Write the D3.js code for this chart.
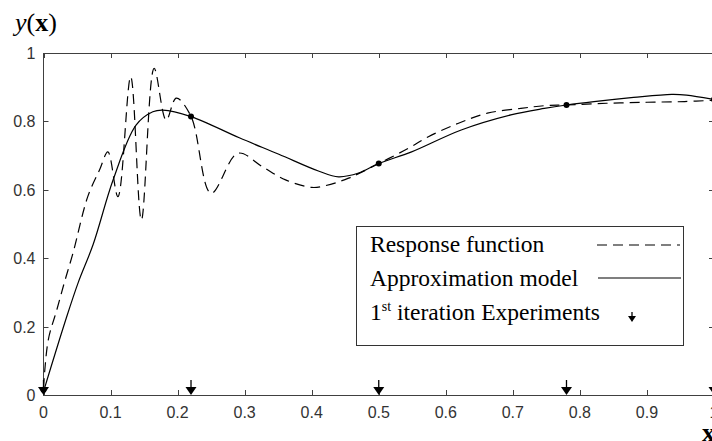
<!DOCTYPE html>
<html><head>
<meta charset="utf-8">
<script src="https://d3js.org/d3.v7.min.js"></script>
<style>
  body { margin: 0; background: #fff; }
  .frame { fill: none; stroke: #404040; stroke-width: 1px; }
  .tick-mark { stroke: #404040; stroke-width: 1px; }
  .tick-label { font-family: Arial, "Liberation Sans", sans-serif; font-size: 16px; fill: #333; }
  .response { fill: none; stroke: #000; stroke-width: 1.2px; stroke-dasharray: 10,6; }
  .approx { fill: none; stroke: #000; stroke-width: 1.2px; }
  .legend-box { fill: #fff; stroke: #333; stroke-width: 1px; }
  .legend-text { font-family: "Times New Roman", "Liberation Serif", serif; font-size: 23.5px; fill: #000; }
  .axis-title { font-family: "Times New Roman", "Liberation Serif", serif; font-size: 26px; fill: #000; }
</style>
</head>
<body>
<svg id="chart" width="712" height="441"></svg>
<script>
  // values
  const respX = [0, 0.007, 0.02, 0.032, 0.044, 0.066, 0.084, 0.096, 0.111, 0.13, 0.146, 0.165, 0.183, 0.198, 0.22, 0.25, 0.29, 0.326, 0.361, 0.40, 0.42, 0.455, 0.5, 0.544, 0.574, 0.618, 0.662, 0.712, 0.747, 0.78, 0.84, 0.9, 0.956, 1.0];
  const respY = [0.02, 0.16, 0.25, 0.335, 0.415, 0.58, 0.66, 0.711, 0.58, 0.931, 0.512, 0.955, 0.804, 0.868, 0.815, 0.59, 0.707, 0.668, 0.629, 0.607, 0.612, 0.634, 0.677, 0.721, 0.755, 0.794, 0.824, 0.838, 0.846, 0.848, 0.853, 0.856, 0.858, 0.862];

  const approxX = [0, 0.034, 0.052, 0.074, 0.104, 0.138, 0.163, 0.178, 0.22, 0.292, 0.351, 0.41, 0.44, 0.47, 0.5, 0.549, 0.623, 0.697, 0.747, 0.78, 0.821, 0.88, 0.937, 0.959, 1.0];
  const approxY = [0.01, 0.225, 0.33, 0.44, 0.63, 0.789, 0.828, 0.833, 0.814, 0.752, 0.704, 0.655, 0.638, 0.649, 0.677, 0.711, 0.775, 0.819, 0.838, 0.848, 0.858, 0.870, 0.879, 0.877, 0.864];

  const expX = [0, 0.22, 0.5, 0.78, 1.0];
  const expY = [0.015, 0.814, 0.677, 0.848, 0.864];

  const xTicks = [0, 0.1, 0.2, 0.3, 0.4, 0.5, 0.6, 0.7, 0.8, 0.9, 1];
  const xTickLabels = ["0", "0.1", "0.2", "0.3", "0.4", "0.5", "0.6", "0.7", "0.8", "0.9", "1"];
  const yTicks = [0, 0.2, 0.4, 0.6, 0.8, 1];
  const yTickLabels = ["0", "0.2", "0.4", "0.6", "0.8", "1"];

  const svg = d3.select("#chart");
  const plotLeft = 43.5, plotRight = 714, plotTop = 53, plotBottom = 395;

  const xScale = d3.scaleLinear().domain([0, 1]).range([plotLeft, plotRight]);
  const yScale = d3.scaleLinear().domain([0, 1]).range([plotBottom, plotTop]);

  // box
  svg.append("rect").attr("class", "frame")
    .attr("x", plotLeft).attr("y", plotTop + 0.5)
    .attr("width", plotRight - plotLeft).attr("height", plotBottom - plotTop);

  const tickLen = 5;
  // x ticks, bottom and top, pointing inward
  xTicks.forEach((t, i) => {
    const px = Math.round(xScale(t)) + 0.5;
    svg.append("line").attr("class", "tick-mark")
      .attr("x1", px).attr("x2", px).attr("y1", plotBottom).attr("y2", plotBottom - tickLen);
    svg.append("line").attr("class", "tick-mark")
      .attr("x1", px).attr("x2", px).attr("y1", plotTop).attr("y2", plotTop + tickLen);
    svg.append("text").attr("class", "tick-label")
      .attr("x", xScale(t)).attr("y", 418)
      .attr("text-anchor", "middle")
      .text(xTickLabels[i]);
  });
  // y ticks, left and right
  yTicks.forEach((t, i) => {
    const py = Math.round(yScale(t)) + 0.5;
    svg.append("line").attr("class", "tick-mark")
      .attr("x1", plotLeft).attr("x2", plotLeft + tickLen).attr("y1", py).attr("y2", py);
    svg.append("line").attr("class", "tick-mark")
      .attr("x1", plotRight).attr("x2", plotRight - tickLen).attr("y1", py).attr("y2", py);
    svg.append("text").attr("class", "tick-label")
      .attr("x", plotLeft - 8).attr("y", yScale(t) + 6)
      .attr("text-anchor", "end")
      .text(yTickLabels[i]);
  });

  const line = d3.line()
    .x(d => xScale(d[0]))
    .y(d => yScale(d[1]))
    .curve(d3.curveCatmullRom.alpha(0.5));

  svg.append("path").attr("class", "response")
    .attr("d", line(respX.map((x, i) => [x, respY[i]])));
  svg.append("path").attr("class", "approx")
    .attr("d", line(approxX.map((x, i) => [x, approxY[i]])));

  // experiment points on the curve
  svg.selectAll(".exp-dot").data(expX)
    .enter().append("circle")
    .attr("class", "exp-dot")
    .attr("cx", d => xScale(d))
    .attr("cy", (d, i) => yScale(expY[i]))
    .attr("r", 3)
    .attr("fill", "#000");

  // down arrows on the x axis
  const arrow = (g, x, yTip, stem, hw, hh) => {
    g.append("line").attr("x1", x).attr("x2", x)
      .attr("y1", yTip - stem).attr("y2", yTip - hh + 1)
      .attr("stroke", "#000").attr("stroke-width", 1.3);
    g.append("path")
      .attr("d", "M" + (x - hw) + "," + (yTip - hh) + "L" + (x + hw) + "," + (yTip - hh) + "L" + x + "," + yTip + "Z")
      .attr("fill", "#000");
  };
  expX.forEach(d => arrow(svg, xScale(d), plotBottom, 15, 5.5, 8));

  // legend
  const lg = svg.append("g");
  lg.append("rect").attr("class", "legend-box")
    .attr("x", 356.5).attr("y", 226.5).attr("width", 327).attr("height", 119);
  lg.append("text").attr("class", "legend-text").attr("x", 370).attr("y", 252).text("Response function");
  lg.append("text").attr("class", "legend-text").attr("x", 370).attr("y", 286).text("Approximation model");
  const t3 = lg.append("text").attr("class", "legend-text").attr("x", 370).attr("y", 320);
  t3.append("tspan").text("1");
  t3.append("tspan").attr("dy", -9).attr("font-size", "14px").text("st");
  t3.append("tspan").attr("dy", 9).text(" iteration Experiments");
  lg.append("line").attr("class", "response")
    .attr("x1", 597).attr("x2", 680).attr("y1", 245).attr("y2", 245);
  lg.append("line").attr("class", "approx")
    .attr("x1", 598).attr("x2", 681).attr("y1", 278).attr("y2", 278);
  arrow(lg, 632, 322, 10, 4, 6);

  // axis titles
  const yt = svg.append("text").attr("class", "axis-title").attr("x", 15).attr("y", 31);
  yt.append("tspan").attr("font-style", "italic").text("y");
  yt.append("tspan").text("(");
  yt.append("tspan").attr("font-weight", "bold").text("x");
  yt.append("tspan").text(")");
  svg.append("text").attr("class", "axis-title")
    .attr("x", 702).attr("y", 441).attr("font-weight", "bold").text("x");
</script>
</body></html>
